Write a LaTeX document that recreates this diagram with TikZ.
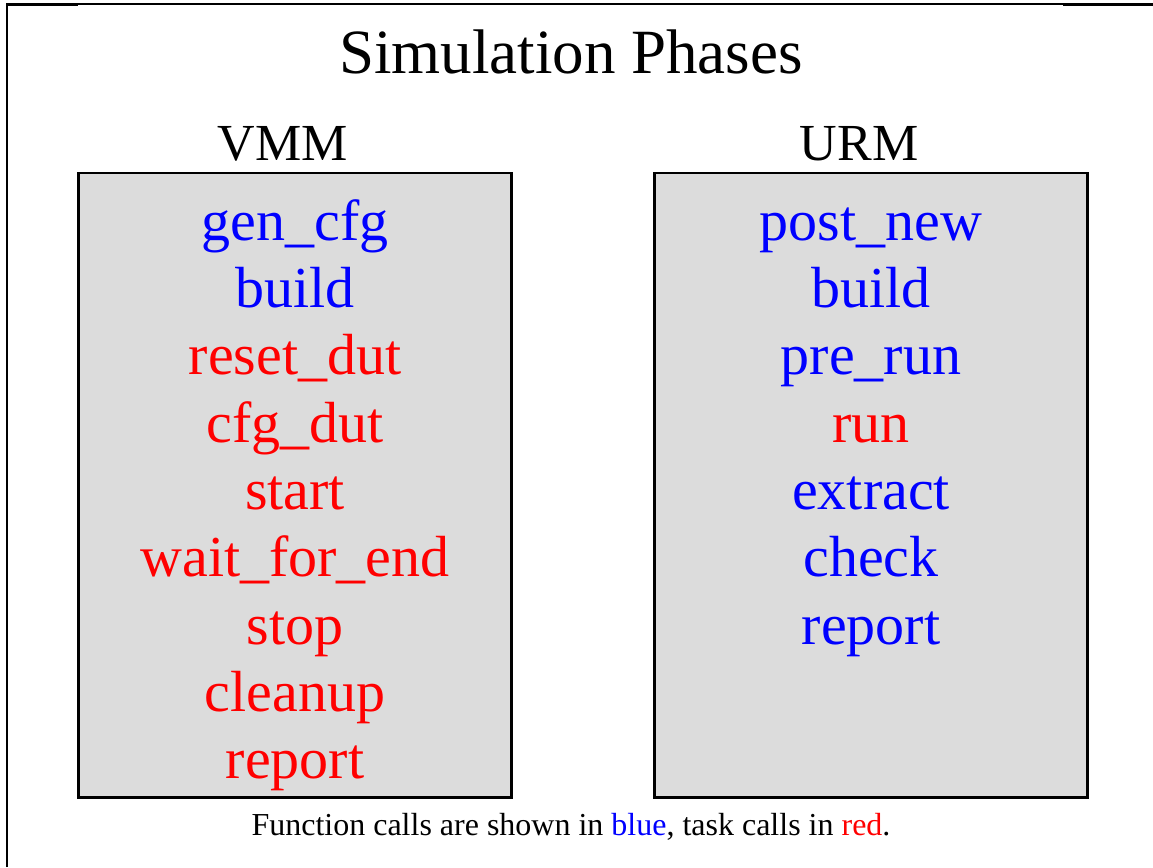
\documentclass[tikz,border=0pt]{standalone}
\usepackage{fontspec}
\setmainfont{Liberation Serif}
\definecolor{fnblue}{RGB}{0,0,255}
\definecolor{tkred}{RGB}{255,0,0}
\definecolor{boxgray}{RGB}{220,220,220}
\begin{document}
\begin{tikzpicture}[x=1pt,y=-1pt,
  titletext/.style={anchor=base,font=\fontsize{63}{70}\selectfont,inner sep=0pt},
  headtext/.style={anchor=base,font=\fontsize{52}{58}\selectfont,inner sep=0pt},
  fn/.style={anchor=base,font=\fontsize{58}{64}\selectfont,inner sep=0pt,text=fnblue},
  tk/.style={anchor=base,font=\fontsize{58}{64}\selectfont,inner sep=0pt,text=tkred},
  foottext/.style={anchor=base,font=\fontsize{32}{36}\selectfont,inner sep=0pt},
  phasebox/.style={fill=boxgray,draw=black,line width=1.2pt},
  edge/.style={draw=black,line width=2pt}]
\useasboundingbox (0,0) rectangle (1153,867);
\fill[white] (0,0) rectangle (1153,867);
% slide frame
\draw[line width=1.2pt] (7,867) -- (7,4) -- (1153,4);
\draw[line width=2.2pt] (7,4.5) -- (78,4.5);
\draw[line width=2.2pt] (1063,4.5) -- (1153,4.5);
\draw[line width=2pt] (7,4) -- (7,867);
% title
\node[titletext] (title) at (571,74) {Simulation Phases};
\node[headtext] (vmmh) at (283,160) {VMM};
\node[headtext] (urmh) at (859,160) {URM};
% boxes
\node[phasebox,minimum width=432pt,minimum height=624pt,inner sep=0pt] (vmm) at (295,485) {};
\node[phasebox,minimum width=432pt,minimum height=624pt,inner sep=0pt] (urm) at (871,485) {};
\draw[edge] (vmm.north west) -- (vmm.south west) -- (vmm.south east) -- (vmm.north east);
\draw[edge] (urm.north west) -- (urm.south west) -- (urm.south east) -- (urm.north east);
\draw[line width=2pt] ([yshift=-0.5pt]vmm.north west) -- ++(23,0);
\draw[line width=2pt] ([xshift=-48pt,yshift=-0.5pt]vmm.north east) -- ([yshift=-0.5pt]vmm.north east);
\draw[line width=2pt] ([yshift=-0.5pt]urm.north west) -- ++(23,0);
\draw[line width=2pt] ([xshift=-48pt,yshift=-0.5pt]urm.north east) -- ([yshift=-0.5pt]urm.north east);
% VMM phases
\node[fn] (v1) at (295,240) {gen\_cfg};
\node[fn] (v2) at (295,307) {build};
\node[tk] (v3) at (295,374) {reset\_dut};
\node[tk] (v4) at (295,442) {cfg\_dut};
\node[tk] (v5) at (295,509) {start};
\node[tk] (v6) at (295,576) {wait\_for\_end};
\node[tk] (v7) at (295,644) {stop};
\node[tk] (v8) at (295,711) {cleanup};
\node[tk] (v9) at (295,778) {report};
% URM phases
\node[fn] (u1) at (871,240) {post\_new};
\node[fn] (u2) at (871,307) {build};
\node[fn] (u3) at (871,374) {pre\_run};
\node[tk] (u4) at (871,442) {run};
\node[fn] (u5) at (871,509) {extract};
\node[fn] (u6) at (871,576) {check};
\node[fn] (u7) at (871,644) {report};
% footer
\node[foottext] (foot) at (571,835) {Function calls are shown in \textcolor{fnblue}{blue}, task calls in \textcolor{tkred}{red}.};
\end{tikzpicture}
\end{document}
